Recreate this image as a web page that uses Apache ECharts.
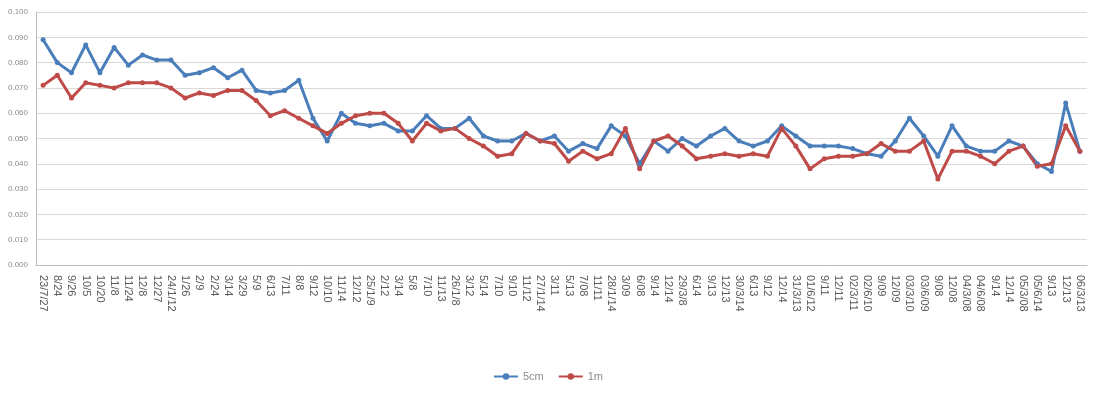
<!DOCTYPE html>
<html>
<head>
<meta charset="utf-8">
<script src="https://cdn.jsdelivr.net/npm/echarts@6/dist/echarts.min.js"></script>
<style>
  html, body { margin: 0; padding: 0; background: #fff; }
  #chart { width: 1096px; height: 405px; }
</style>
</head>
<body>
<div id="chart"></div>
<script>
const categories = [
  '23/7/27', '8/24', '9/26', '10/5', '10/20', '11/8', '11/24', '12/8', '12/27', '24/1/12',
  '1/26', '2/9', '2/24', '3/14', '3/29', '5/9', '6/13', '7/11', '8/8', '9/12',
  '10/10', '11/14', '12/12', '25/1/9', '2/12', '3/14', '5/8', '7/10', '11/13', '26/1/8',
  '3/12', '5/14', '7/10', '9/10', '11/12', '27/1/14', '3/11', '5/13', '7/08', '11/11',
  '28/1/14', '3/09', '6/08', '9/14', '12/14', '29/3/8', '6/14', '9/13', '12/13', '30/3/14',
  '6/13', '9/12', '12/14', '31/3/13', '01/6/12', '9/11', '12/11', '02/3/11', '02/6/10', '9/09',
  '12/09', '03/3/10', '03/6/09', '9/08', '12/08', '04/3/08', '04/6/08', '9/14', '12/14', '05/3/08',
  '05/6/14', '9/13', '12/13', '06/3/13'
];

const values5cm = [
  0.089, 0.080, 0.076, 0.087, 0.076, 0.086, 0.079, 0.083, 0.081, 0.081,
  0.075, 0.076, 0.078, 0.074, 0.077, 0.069, 0.068, 0.069, 0.073, 0.058,
  0.049, 0.060, 0.056, 0.055, 0.056, 0.053, 0.053, 0.059, 0.054, 0.054,
  0.058, 0.051, 0.049, 0.049, 0.052, 0.049, 0.051, 0.045, 0.048, 0.046,
  0.055, 0.051, 0.040, 0.049, 0.045, 0.050, 0.047, 0.051, 0.054, 0.049,
  0.047, 0.049, 0.055, 0.051, 0.047, 0.047, 0.047, 0.046, 0.044, 0.043,
  0.049, 0.058, 0.051, 0.043, 0.055, 0.047, 0.045, 0.045, 0.049, 0.047,
  0.040, 0.037, 0.064, 0.045
];

const values1m = [
  0.071, 0.075, 0.066, 0.072, 0.071, 0.070, 0.072, 0.072, 0.072, 0.070,
  0.066, 0.068, 0.067, 0.069, 0.069, 0.065, 0.059, 0.061, 0.058, 0.055,
  0.052, 0.056, 0.059, 0.060, 0.060, 0.056, 0.049, 0.056, 0.053, 0.054,
  0.050, 0.047, 0.043, 0.044, 0.052, 0.049, 0.048, 0.041, 0.045, 0.042,
  0.044, 0.054, 0.038, 0.049, 0.051, 0.047, 0.042, 0.043, 0.044, 0.043,
  0.044, 0.043, 0.054, 0.047, 0.038, 0.042, 0.043, 0.043, 0.044, 0.048,
  0.045, 0.045, 0.049, 0.034, 0.045, 0.045, 0.043, 0.040, 0.045, 0.047,
  0.039, 0.040, 0.055, 0.045
];

const yTicks = { min: 0, max: 0.1, interval: 0.01 };

const chart = echarts.init(document.getElementById('chart'));
chart.setOption({
  animation: false,
  grid: { left: 36, right: 9, top: 12, bottom: 140 },
  legend: {
    bottom: 18,
    left: 'center',
    itemWidth: 24,
    itemHeight: 8,
    itemGap: 14,
    textStyle: { color: '#8c8c8c', fontSize: 11, fontFamily: 'Liberation Sans' },
    data: ['5cm', '1m']
  },
  xAxis: {
    type: 'category',
    data: categories,
    boundaryGap: true,
    axisLine: { lineStyle: { color: '#bfbfbf' } },
    axisTick: { show: false },
    axisLabel: {
      interval: 0,
      rotate: -90,
      fontSize: 11,
      color: '#595959',
      fontFamily: 'Liberation Sans',
      margin: 10
    }
  },
  yAxis: {
    type: 'value',
    min: yTicks.min,
    max: yTicks.max,
    interval: yTicks.interval,
    axisLine: { show: true, lineStyle: { color: '#bfbfbf' } },
    axisTick: { show: false },
    splitLine: { lineStyle: { color: '#d9d9d9' } },
    axisLabel: {
      formatter: v => v.toFixed(3),
      fontSize: 8,
      color: '#8c8c8c',
      fontFamily: 'Liberation Sans',
      margin: 8
    }
  },
  series: [
    {
      name: '5cm',
      type: 'line',
      data: values5cm,
      symbol: 'circle',
      symbolSize: 5,
      lineStyle: { width: 3, color: '#4a7ebb' },
      itemStyle: { color: '#4a7ebb' }
    },
    {
      name: '1m',
      type: 'line',
      data: values1m,
      symbol: 'circle',
      symbolSize: 5,
      lineStyle: { width: 3, color: '#be4b48' },
      itemStyle: { color: '#be4b48' }
    }
  ]
});
</script>
</body>
</html>
